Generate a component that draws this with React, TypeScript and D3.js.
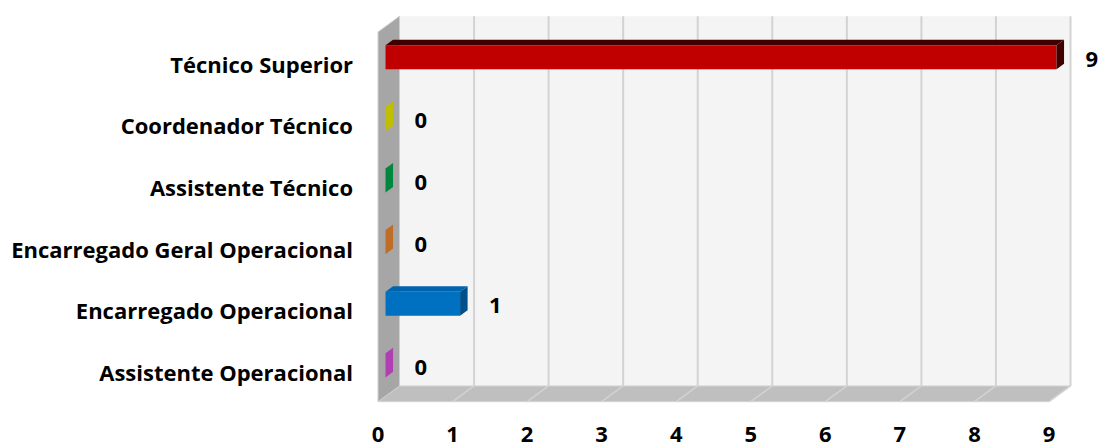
import React from "react";
import * as d3 from "d3";

// Chart data
const categories = [
  "Técnico Superior",
  "Coordenador Técnico",
  "Assistente Técnico",
  "Encarregado Geral Operacional",
  "Encarregado Operacional",
  "Assistente Operacional",
];
const values = [9, 0, 0, 0, 1, 0];
const tickValues = [0, 1, 2, 3, 4, 5, 6, 7, 8, 9];

// Bar face colours per category
const frontColors = ["#c00000", "#bfbf00", "#00863d", "#c06d27", "#0070c0", "#b03fb3"];
const topColors = ["#3f0000", "#a8a800", "#00702f", "#a85a1c", "#0063ad", "#9a309c"];
const sideColors = ["#3f0000", "#bfbf00", "#00863d", "#c06d27", "#00508c", "#b03fb3"];

const W = 1099;
const H = 444;

// Front plane of the 3D box
const left = 378;
const right = 1049;
const top = 32;
const bottom = 401.7;
// Depth offset of the back wall
const DX = 21.5;
const DY = -15.8;
// Bars occupy a slice of the depth
const F0 = 0.35;
const F1 = 0.7;

const FONT = "'Open Sans', 'Noto Sans', sans-serif";
const FS = 22;

export default function App() {
  const x = d3.scaleLinear().domain([0, 9]).range([left, right]);
  const y = d3
    .scaleBand<string>()
    .domain(categories)
    .range([top, bottom])
    .paddingInner(0.61)
    .paddingOuter(0.305);

  const pts = (p: [number, number][]) => p.map((q) => q.join(",")).join(" ");

  const backLeft = left + DX;
  const backTop = top + DY;
  const backBottom = bottom + DY;

  return (
    <div style={{ position: "fixed", left: 0, top: 0 }}>
      <svg width={W} height={H} style={{ display: "block", background: "#fff" }}>
        {/* back wall */}
        <rect
          x={backLeft}
          y={backTop}
          width={x(9) + DX - backLeft}
          height={backBottom - backTop}
          fill="#f4f4f4"
        />
        {/* vertical gridlines on the back wall */}
        {tickValues.slice(1).map((v) => (
          <line
            key={"g" + v}
            x1={x(v) + DX}
            x2={x(v) + DX}
            y1={backTop}
            y2={backBottom}
            stroke="#d3d3d3"
            strokeWidth={2}
          />
        ))}
        {/* floor */}
        <polygon
          points={pts([
            [backLeft, backBottom],
            [x(9) + DX, backBottom],
            [x(9), bottom],
            [left, bottom],
          ])}
          fill="#bfbfbf"
          stroke="#d6d6d6"
          strokeWidth={1}
        />
        {tickValues.slice(1).map((v) => (
          <line
            key={"f" + v}
            x1={x(v) + DX}
            x2={x(v)}
            y1={backBottom}
            y2={bottom}
            stroke="#d2d2d2"
            strokeWidth={1.5}
          />
        ))}
        {/* left wall */}
        <polygon
          points={pts([
            [left, top],
            [backLeft, backTop],
            [backLeft, backBottom],
            [left, bottom],
          ])}
          fill="#a6a6a6"
          stroke="#cfcfcf"
          strokeWidth={1}
        />
        {/* bars */}
        {categories.map((c, i) => {
          const v = values[i];
          const y0 = y(c) as number;
          const y1 = y0 + y.bandwidth();
          const ax = DX * F0;
          const ay = DY * F0;
          const bx = DX * F1;
          const by = DY * F1;
          const xs = x(0);
          const xe = x(v);
          return (
            <g key={c}>
              {v > 0 && (
                <>
                  <polygon
                    points={pts([
                      [xs + ax, y0 + ay],
                      [xe + ax, y0 + ay],
                      [xe + bx, y0 + by],
                      [xs + bx, y0 + by],
                    ])}
                    fill={topColors[i]}
                  />
                  <rect
                    x={xs + ax}
                    y={y0 + ay}
                    width={xe - xs}
                    height={y1 - y0}
                    fill={frontColors[i]}
                  />
                </>
              )}
              <polygon
                points={pts([
                  [xe + ax, y0 + ay],
                  [xe + bx, y0 + by],
                  [xe + bx, y1 + by],
                  [xe + ax, y1 + ay],
                ])}
                fill={sideColors[i]}
              />
              <text
                x={xe + ax + 29}
                y={(y0 + y1) / 2 + 4}
                fontFamily={FONT}
                fontWeight="bold"
                fontSize={FS}
                fill="#000"
              >
                {v}
              </text>
            </g>
          );
        })}
        {/* category labels */}
        {categories.map((c) => (
          <text
            key={"l" + c}
            x={353}
            y={(y(c) as number) + y.bandwidth() / 2 + 10}
            textAnchor="end"
            fontFamily={FONT}
            fontWeight="bold"
            fontSize={FS}
            fill="#000"
          >
            {c}
          </text>
        ))}
        {/* value axis labels */}
        {tickValues.map((v) => (
          <text
            key={"t" + v}
            x={x(v)}
            y={442}
            textAnchor="middle"
            fontFamily={FONT}
            fontWeight="bold"
            fontSize={FS}
            fill="#000"
          >
            {v}
          </text>
        ))}
      </svg>
    </div>
  );
}
